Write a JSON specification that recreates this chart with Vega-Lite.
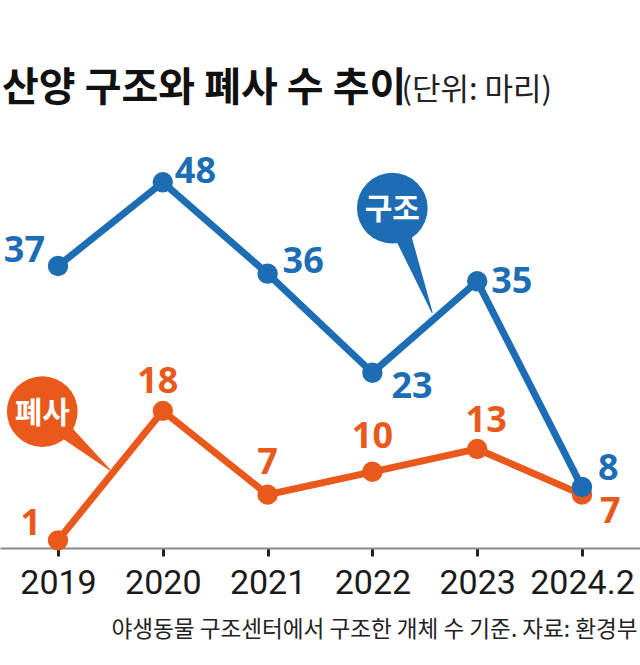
{
  "$schema": "https://vega.github.io/schema/vega-lite/v6.json",
  "width": 640,
  "height": 381,
  "autosize": {"type": "none"},
  "padding": {"left": 0, "top": 167, "right": 0, "bottom": 117},
  "background": "white",
  "config": {"view": {"stroke": null}},
  "title": {"text": "산양 구조와 폐사 수 추이", "anchor": "start", "frame": "group", "font": "Noto Sans CJK KR", "fontSize": 40, "fontWeight": "bold", "color": "#111111", "baseline": "alphabetic", "offset": -67, "dx": 2},
  "datasets": {
    "main": [
      {"series": "구조", "i": 0, "year": "2019", "value": 37},
      {"series": "구조", "i": 1, "year": "2020", "value": 48},
      {"series": "구조", "i": 2, "year": "2021", "value": 36},
      {"series": "구조", "i": 3, "year": "2022", "value": 23},
      {"series": "구조", "i": 4, "year": "2023", "value": 35},
      {"series": "구조", "i": 5, "year": "2024.2", "value": 8},
      {"series": "폐사", "i": 0, "year": "2019", "value": 1},
      {"series": "폐사", "i": 1, "year": "2020", "value": 18},
      {"series": "폐사", "i": 2, "year": "2021", "value": 7},
      {"series": "폐사", "i": 3, "year": "2022", "value": 10},
      {"series": "폐사", "i": 4, "year": "2023", "value": 13},
      {"series": "폐사", "i": 5, "year": "2024.2", "value": 7}
    ],
    "bubble": [
      {"series": "구조", "label": "구조", "i": 3.19, "value": 44.6},
      {"series": "폐사", "label": "폐사", "i": -0.15, "value": 17.9}
    ],
    "pointer": [
      {"series": "구조", "i": 3.19, "value": 44.6, "end": 0},
      {"series": "구조", "i": 3.57, "value": 30.9, "end": 1},
      {"series": "폐사", "i": -0.15, "value": 17.9, "end": 0},
      {"series": "폐사", "i": 0.5, "value": 10.2, "end": 1}
    ]
  },
  "data": {"name": "main"},
  "encoding": {
    "x": {
      "field": "i", "type": "quantitative",
      "scale": {"domain": [-0.5534, 5.5534], "nice": false, "zero": false},
      "axis": {
        "values": [0, 1, 2, 3, 4, 5],
        "labelExpr": "['2019','2020','2021','2022','2023','2024.2'][datum.value]",
        "grid": false,
        "domainColor": "#888888", "domainWidth": 2,
        "tickColor": "#222222", "tickWidth": 3, "tickSize": 8,
        "labelFont": "Roboto",
        "labelFontSize": 34, "labelColor": "#1a1a1a",
        "labelPadding": 37, "labelBaseline": "alphabetic",
        "labelFlush": false, "labelOverlap": false,
        "title": "야생동물 구조센터에서 구조한 개체 수 기준. 자료: 환경부",
        "titleX": 637, "titleY": 88, "titleAlign": "right", "titleAngle": 0,
        "titleBaseline": "alphabetic", "titleFont": "Noto Sans CJK KR",
        "titleFontSize": 22.6, "titleFontWeight": "normal", "titleColor": "#222222"
      }
    },
    "y": {
      "field": "value", "type": "quantitative",
      "scale": {"domain": [0, 50], "nice": false},
      "axis": {
        "domain": false, "ticks": false, "labels": false, "grid": false,
        "title": "(단위: 마리)", "titleX": 401, "titleY": -68, "titleAngle": 0,
        "titleAlign": "left", "titleBaseline": "alphabetic",
        "titleFont": "Noto Sans CJK KR", "titleFontSize": 31, "titleFontWeight": "normal", "titleColor": "#222222"
      }
    },
    "color": {
      "field": "series", "type": "nominal",
      "scale": {"domain": ["구조", "폐사"], "range": ["#1d6db5", "#e9591c"]},
      "legend": null
    }
  },
  "layer": [
    {
      "data": {"name": "pointer"},
      "mark": {"type": "trail"},
      "encoding": {
        "size": {"field": "end", "type": "quantitative", "scale": {"domain": [0, 1], "range": [22, 1]}, "legend": null},
        "detail": {"field": "series"},
        "order": {"field": "end"}
      }
    },
    {
      "data": {"name": "bubble"},
      "mark": {"type": "circle", "size": 5000, "opacity": 1}
    },
    {
      "data": {"name": "bubble"},
      "mark": {"type": "text", "font": "Noto Sans CJK KR", "fontSize": 30, "fontWeight": "bold", "align": "center", "baseline": "middle", "dy": 2},
      "encoding": {"text": {"field": "label"}, "color": {"value": "white"}}
    },
    {
      "transform": [{"filter": "datum.series == '폐사'"}],
      "mark": {"type": "line", "strokeWidth": 7},
      "encoding": {"order": {"field": "i"}}
    },
    {
      "transform": [{"filter": "datum.series == '폐사'"}],
      "mark": {"type": "circle", "size": 415, "opacity": 1}
    },
    {
      "transform": [{"filter": "datum.series == '구조'"}],
      "mark": {"type": "line", "strokeWidth": 7},
      "encoding": {"order": {"field": "i"}}
    },
    {
      "transform": [{"filter": "datum.series == '구조'"}],
      "mark": {"type": "circle", "size": 415, "opacity": 1}
    },
    {
      "transform": [{"filter": "datum.series == '구조' && datum.i == 0"}],
      "mark": {"type": "text", "font": "Noto Sans", "fontSize": 36, "fontWeight": "bold", "align": "right", "baseline": "alphabetic", "dx": -13, "dy": -4},
      "encoding": {"text": {"field": "value", "type": "quantitative"}}
    },
    {
      "transform": [{"filter": "datum.series == '구조' && datum.i == 1"}],
      "mark": {"type": "text", "font": "Noto Sans", "fontSize": 36, "fontWeight": "bold", "align": "left", "baseline": "alphabetic", "dx": 12, "dy": 1},
      "encoding": {"text": {"field": "value", "type": "quantitative"}}
    },
    {
      "transform": [{"filter": "datum.series == '구조' && datum.i == 2"}],
      "mark": {"type": "text", "font": "Noto Sans", "fontSize": 36, "fontWeight": "bold", "align": "left", "baseline": "alphabetic", "dx": 15, "dy": -1},
      "encoding": {"text": {"field": "value", "type": "quantitative"}}
    },
    {
      "transform": [{"filter": "datum.series == '구조' && datum.i == 3"}],
      "mark": {"type": "text", "font": "Noto Sans", "fontSize": 36, "fontWeight": "bold", "align": "left", "baseline": "alphabetic", "dx": 19, "dy": 25},
      "encoding": {"text": {"field": "value", "type": "quantitative"}}
    },
    {
      "transform": [{"filter": "datum.series == '구조' && datum.i == 4"}],
      "mark": {"type": "text", "font": "Noto Sans", "fontSize": 36, "fontWeight": "bold", "align": "left", "baseline": "alphabetic", "dx": 14, "dy": 12},
      "encoding": {"text": {"field": "value", "type": "quantitative"}}
    },
    {
      "transform": [{"filter": "datum.series == '구조' && datum.i == 5"}],
      "mark": {"type": "text", "font": "Noto Sans", "fontSize": 36, "fontWeight": "bold", "align": "left", "baseline": "alphabetic", "dx": 16, "dy": -7},
      "encoding": {"text": {"field": "value", "type": "quantitative"}}
    },
    {
      "transform": [{"filter": "datum.series == '폐사' && datum.i == 0"}],
      "mark": {"type": "text", "font": "Noto Sans", "fontSize": 36, "fontWeight": "bold", "align": "right", "baseline": "alphabetic", "dx": -17, "dy": -5},
      "encoding": {"text": {"field": "value", "type": "quantitative"}}
    },
    {
      "transform": [{"filter": "datum.series == '폐사' && datum.i == 1"}],
      "mark": {"type": "text", "font": "Noto Sans", "fontSize": 36, "fontWeight": "bold", "align": "center", "baseline": "alphabetic", "dx": -5, "dy": -18},
      "encoding": {"text": {"field": "value", "type": "quantitative"}}
    },
    {
      "transform": [{"filter": "datum.series == '폐사' && datum.i == 2"}],
      "mark": {"type": "text", "font": "Noto Sans", "fontSize": 36, "fontWeight": "bold", "align": "center", "baseline": "alphabetic", "dx": 0, "dy": -21},
      "encoding": {"text": {"field": "value", "type": "quantitative"}}
    },
    {
      "transform": [{"filter": "datum.series == '폐사' && datum.i == 3"}],
      "mark": {"type": "text", "font": "Noto Sans", "fontSize": 36, "fontWeight": "bold", "align": "center", "baseline": "alphabetic", "dx": 0, "dy": -24},
      "encoding": {"text": {"field": "value", "type": "quantitative"}}
    },
    {
      "transform": [{"filter": "datum.series == '폐사' && datum.i == 4"}],
      "mark": {"type": "text", "font": "Noto Sans", "fontSize": 36, "fontWeight": "bold", "align": "center", "baseline": "alphabetic", "dx": 9, "dy": -17},
      "encoding": {"text": {"field": "value", "type": "quantitative"}}
    },
    {
      "transform": [{"filter": "datum.series == '폐사' && datum.i == 5"}],
      "mark": {"type": "text", "font": "Noto Sans", "fontSize": 36, "fontWeight": "bold", "align": "left", "baseline": "alphabetic", "dx": 18, "dy": 28},
      "encoding": {"text": {"field": "value", "type": "quantitative"}}
    }
  ]
}
